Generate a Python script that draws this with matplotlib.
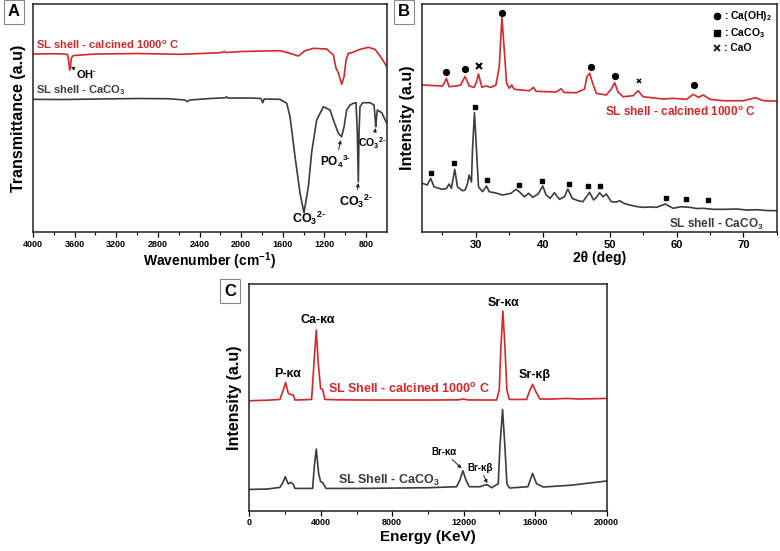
import matplotlib
matplotlib.use("Agg")
import matplotlib.pyplot as plt
from matplotlib.lines import Line2D

plt.rcParams['font.family'] = ['Liberation Sans', 'DejaVu Sans']
plt.rcParams['font.weight'] = 'bold'
plt.rcParams['axes.labelweight'] = 'bold'
plt.rcParams['mathtext.fontset'] = 'custom'
plt.rcParams['mathtext.rm'] = 'Liberation Sans:bold'
plt.rcParams['mathtext.it'] = 'Liberation Sans:bold'
plt.rcParams['mathtext.bf'] = 'Liberation Sans:bold'
plt.rcParams['mathtext.default'] = 'rm'

RED = '#d7262b'
DARK = '#3c3c3c'

# ---- A: FTIR ----
ftir_red_w = [4000, 3800, 3700, 3668, 3656, 3648, 3642, 3632, 3612, 3400, 3000, 2588, 2200, 2160,
              2150, 2000, 1800, 1627, 1531, 1451, 1387, 1307, 1179, 1115, 1089, 1067, 1035, 1012,
              993, 971, 939, 859, 779, 715, 650, 602]
ftir_red_t = [178, 178.3, 178, 177.5, 170, 162, 164, 174, 176.5, 178, 178.5, 177.7, 179.3, 180.5,
              179.5, 180.5, 181, 181.3, 178.7, 176, 181.3, 183.7, 183, 177, 163.7, 159.3, 147.7, 155.3,
              172, 178.7, 179.3, 182.7, 184.7, 182.7, 173.7, 165.3]

ftir_blk_w = [4000, 3700, 3400, 3000, 2700, 2540, 2518, 2495, 2300, 2150, 2140, 2130, 1900, 1810,
              1793, 1780, 1627, 1563, 1531, 1483, 1435, 1397, 1355, 1323, 1275, 1211, 1147, 1108,
              1067, 1035, 1012, 987, 955, 923, 897, 885, 875, 868, 859, 833, 763, 724, 712, 708,
              700, 692, 650, 602]
ftir_blk_t = [132.7, 132.5, 133, 133.5, 133.3, 132, 130.3, 132, 133.5, 134.3, 135.3, 134, 134, 133.5,
              129.3, 133, 132.7, 128.7, 115.3, 75.3, 38.7, 19.3, 45.3, 80, 112, 125.3, 122, 110.3,
              98.7, 95.3, 105.3, 122, 127, 128.7, 129.3, 100, 50.3, 100, 125.3, 129.3, 129.3, 127, 112, 105.3,
              115, 122, 119.3, 108.7]

# ---- B: XRD ----
xrd_red_t = [22, 23.5, 25, 25.3, 25.6, 26, 27, 27.75, 28.1, 28.4, 28.7, 29, 29.75, 30.1, 30.4, 30.7,
             30.9, 31.5, 32.25, 33, 33.5, 33.9, 34.25, 34.6, 35, 35.35, 35.75, 38, 38.6, 39, 42,
             42.75, 43.2, 45, 46.25, 46.6, 47, 47.4, 48, 49.5, 50.25, 50.75, 51.25, 52, 53.5, 54.25,
             55, 58, 59.5, 61.5, 62.5, 63.25, 64, 65, 67, 70, 71.75, 73, 75]
xrd_red_i = [147, 146.5, 146, 149, 153.7, 145.3, 146, 147, 152, 155.3, 151, 146, 144.7, 150, 158, 150,
             144.7, 146, 144.7, 147, 165.3, 214.7, 182, 148.7, 143.7, 147, 142.7, 141.3, 144.7, 140.7, 140,
             143.3, 139.5, 139.3, 143, 155.3, 158.7, 150, 138.7, 137, 143, 149.3, 140, 135.3, 136.3, 141.3,
             135.3, 133, 133.7, 132.7, 137.7, 134.7, 137, 132.7, 131.3, 131.3, 134.3, 131.3, 131]

xrd_blk_t = [22, 22.75, 23.25, 23.75, 24.3, 25, 25.6, 26, 26.35, 26.85, 27.25, 28, 28.4, 28.75, 29,
             29.35, 29.5, 29.8, 30.1, 30.4, 31, 31.6, 32, 33, 34, 35.25, 36, 36.5, 37.25, 37.9,
             38.5, 39.3, 40, 40.5, 41.1, 41.75, 42.5, 43.25, 43.75, 44.4, 45.2, 46, 47, 47.6, 48.1,
             48.5, 49, 49.5, 50.25, 51, 51.5, 52.2, 53, 54, 55, 56, 57, 58.3, 59.5, 60.6, 62, 63,
             64, 65.5, 67, 69, 70.5, 72, 73.5, 75]
xrd_blk_i = [48.7, 47, 53.7, 45.3, 44, 42.7, 43.5, 48, 43.7, 62.7, 45.3, 41.3, 42, 48.3, 57,
             50, 82, 119.3, 82, 45.3, 40.3, 46, 40.3, 39, 37, 38.7, 42.7, 40.3, 35.3, 38.7,
             34.7, 38, 46, 37, 33.7, 39.3, 32.7, 35.3, 43, 33.7, 31.5, 30.3, 39.7, 32, 35.3,
             39.3, 35.3, 38, 30.3, 30, 31.3, 28.5, 27, 25.5, 24.7, 25, 24.7, 28, 23.7, 25.3, 24.7, 23.5,
             23.7, 22.7, 22.7, 23, 22, 22.3, 21.5, 21.3]

caoh2_t = [25.6, 28.4, 33.95, 47.15, 50.85, 62.65]
caoh2_i = [160.3, 163, 219.3, 165.3, 156, 146.7]
cao_big_t = [30.5]
cao_big_i = [165.7]
cao_small_t = [54.4]
cao_small_i = [151]
caco3_t = [23.3, 26.8, 29.85, 31.65, 36.5, 39.95, 43.85, 46.75, 48.6, 58.4, 61.35, 64.75]
caco3_i = [58.7, 68.7, 125.3, 52, 47, 51, 48.3, 46, 46.3, 33.7, 32.7, 32]

# ---- C: XRF ----
xrf_red_e = [0, 1000, 1716, 1900, 2033, 2182, 2313, 2462, 2555, 3000, 3488, 3618, 3749, 3860, 3991,
             4103, 4234, 5000, 6565, 8000, 10295, 11700, 11973, 12250, 13838, 13988, 14081, 14193,
             14305, 14416, 14547, 15517, 15703, 15853, 16039, 16263, 17000, 17755, 18500, 20000]
xrf_red_i = [110, 110.5, 111.3, 120.7, 128.3, 117.3, 116.3, 115.7, 110.7, 110.9, 111.3, 147.3, 180.7, 147.3, 122.3,
             121.3, 111.3, 110.9, 110.7, 110.7, 110.7, 110.9, 111.7, 110.8, 110.7, 120.7, 164, 199.7,
             164, 120.7, 111.3, 111.3, 120.7, 126.3, 119, 111.7, 111.7, 112.3, 111.7, 112.3]

xrf_blk_e = [0, 1000, 1716, 1900, 2014, 2182, 2313, 2462, 2555, 3544, 3637, 3749, 3880, 3991, 4103,
             4290, 6000, 8430, 10000, 11600, 11787, 11955, 12123, 12310, 12906, 13186, 13316, 13560,
             13931, 14025, 14174, 14305, 14416, 14566, 15591, 15853, 16077, 16450, 18000, 20000]
xrf_blk_i = [21.3, 21.7, 23.3, 29, 34, 26.7, 28.3, 26.7, 22.3, 22.3, 44, 61.7, 37.3, 29, 28.3,
             22.3, 22.3, 22.7, 23, 24, 30.7, 40, 30.7, 24, 24, 25.7, 26, 23, 27, 64, 101.3, 64,
             27, 22.7, 24, 37.3, 27, 23.7, 25.5, 29.7]

fig = plt.figure(figsize=(7.8, 5.51), dpi=100)
axA = fig.add_axes([0.0423, 0.5789, 0.4538, 0.4138])
axB = fig.add_axes([0.5414, 0.5789, 0.4547, 0.4138])
axC = fig.add_axes([0.3196, 0.0731, 0.4582, 0.4114])

for ax in (axA, axB, axC):
    for s in ax.spines.values():
        s.set_linewidth(1.1)
        s.set_color('#222222')
    ax.set_yticks([])
    ax.tick_params(axis='x', direction='out', length=3.5, width=0.9, pad=2)
    ax.tick_params(axis='x', which='minor', direction='out', length=2, width=0.8)

CO3 = r'CO$_3$$^{2\text{-}}$'

# A
axA.plot(ftir_red_w, ftir_red_t, color=RED, lw=1.2)
axA.plot(ftir_blk_w, ftir_blk_t, color=DARK, lw=1.2)
axA.set_xlim(4000, 600)
axA.set_ylim(0, 228)
axA.set_xticks(range(4000, 799, -400))
axA.set_xticks(range(4000, 600, -200), minor=True)
axA.tick_params(axis='x', labelsize=6.5)
axA.set_xlabel('Wavenumber (cm$^{-1}$)', fontsize=10, labelpad=1)
axA.set_ylabel('Transmittance (a.u)', fontsize=11.5, labelpad=5)
axA.text(3971, 187, 'SL shell - calcined 1000$^{o}$ C', color=RED, fontsize=8, va='center')
axA.text(3971, 142, 'SL shell - CaCO$_3$', color=DARK, fontsize=8, va='center')
ap = dict(arrowstyle='-|>', color='#222222', lw=0.7, mutation_scale=5, shrinkA=0, shrinkB=0)
axA.annotate(r'OH$^{\text{-}}$', xy=(3636, 165), xytext=(3590, 158), fontsize=8, va='center', ha='left',
             arrowprops=ap)
axA.text(1349, 14, CO3, fontsize=9, ha='center', va='center')
axA.annotate(r'PO$_4$$^{3\text{-}}$', xy=(1044, 92), xytext=(1089, 71), fontsize=8.5, ha='center', va='center',
             arrowprops=ap)
axA.annotate(CO3, xy=(875, 49), xytext=(897, 31), fontsize=9, ha='center', va='center',
             arrowprops=ap)
axA.annotate(CO3, xy=(708, 104), xytext=(740, 89), fontsize=7.5, ha='center', va='center',
             arrowprops=ap, annotation_clip=False)

# B
axB.plot(xrd_red_t, xrd_red_i, color=RED, lw=1.2)
axB.plot(xrd_blk_t, xrd_blk_i, color=DARK, lw=1.2)
axB.plot(caoh2_t, caoh2_i, 'o', color='black', ms=4.2, ls='none')
axB.plot(caco3_t, caco3_i, 's', color='black', ms=3.2, ls='none')
axB.plot(cao_big_t, cao_big_i, 'x', color='black', ms=4.5, mew=1.5, ls='none')
axB.plot(cao_small_t, cao_small_i, 'x', color='black', ms=3.2, mew=1.1, ls='none')
axB.set_xlim(22, 75)
axB.set_ylim(0, 228)
axB.set_xticks([30, 40, 50, 60, 70])
axB.set_xticks([25, 35, 45, 55, 65, 75], minor=True)
axB.tick_params(axis='x', labelsize=8)
axB.set_xlabel('2θ (deg)', fontsize=10, labelpad=1)
axB.set_ylabel('Intensity (a.u)', fontsize=11.5, labelpad=5)
axB.text(71.9, 120.3, 'SL shell - calcined 1000$^{o}$ C', color=RED, fontsize=8.5, ha='right', va='center')
axB.text(73, 8, 'SL shell - CaCO$_3$', color=DARK, fontsize=8.5, ha='right', va='center')
handles = [Line2D([], [], marker='o', color='black', ls='none', ms=4.5),
           Line2D([], [], marker='s', color='black', ls='none', ms=4),
           Line2D([], [], marker='x', color='black', ls='none', ms=4, mew=1.2)]
axB.legend(handles, [': Ca(OH)$_2$', ': CaCO$_3$', ': CaO'], loc='upper right', frameon=False,
           fontsize=7.5, handlelength=0.7, handletextpad=0.3, labelspacing=0.3,
           borderaxespad=0.2, borderpad=0.3)

# C
axC.plot(xrf_red_e, xrf_red_i, color=RED, lw=1.2)
axC.plot(xrf_blk_e, xrf_blk_i, color=DARK, lw=1.2)
axC.set_xlim(0, 20000)
axC.set_ylim(0, 226.7)
axC.set_xticks(range(0, 20001, 4000))
axC.set_xticks(range(0, 20001, 2000), minor=True)
axC.tick_params(axis='x', labelsize=6.5)
axC.set_xlabel('Energy (KeV)', fontsize=11, labelpad=2)
axC.set_ylabel('Intensity (a.u)', fontsize=11.5, labelpad=5)
axC.text(2145, 136.7, 'P-κα', fontsize=9, ha='center', va='center')
axC.text(3842, 190.7, 'Ca-κα', fontsize=9, ha='center', va='center')
axC.text(14249, 207.3, 'Sr-κα', fontsize=9, ha='center', va='center')
axC.text(15983, 135.7, 'Sr-κβ', fontsize=9, ha='center', va='center')
axC.text(4420, 122.3, 'SL Shell - calcined 1000$^{o}$ C', color=RED, fontsize=9, va='center')
axC.text(4980, 30.7, 'SL Shell - CaCO$_3$', color=DARK, fontsize=9, va='center')
axC.annotate('Br-κα', xy=(11880, 42.4), xytext=(10892, 59), fontsize=7, ha='center', va='center',
             arrowprops=ap)
axC.annotate('Br-κβ', xy=(13316, 27.4), xytext=(12925, 43), fontsize=7, ha='center', va='center',
             arrowprops=ap)

# panel letters
box = dict(boxstyle='square,pad=0.25', fc='white', ec='#888888', lw=0.8)
fig.text(14 / 780, 1 - 12 / 551, 'A', fontsize=12, ha='center', va='center', bbox=box)
fig.text(404 / 780, 1 - 12 / 551, 'B', fontsize=12, ha='center', va='center', bbox=box)
fig.text(230 / 780, 1 - 291 / 551, 'C', fontsize=12, ha='center', va='center', bbox=box)

fig.savefig('out.png', dpi=100)
